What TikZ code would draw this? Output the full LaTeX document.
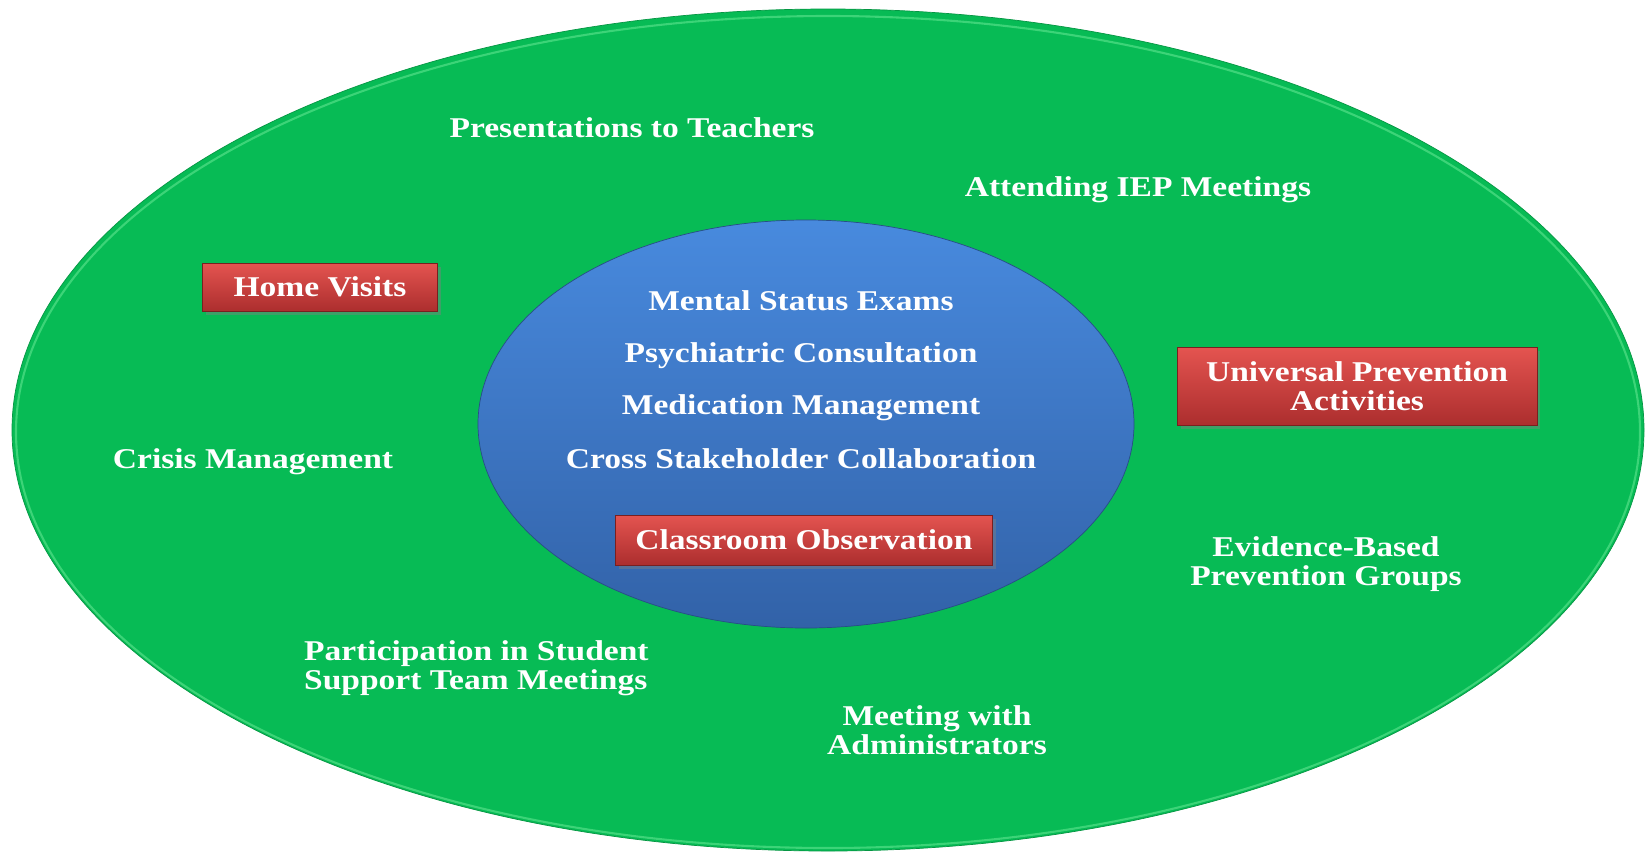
\documentclass[tikz,border=0pt]{standalone}
\usepackage{fontspec}
\setmainfont{Liberation Serif}[FakeStretch=1.17]
\usetikzlibrary{shadows}

\definecolor{ringgreen}{RGB}{7,187,85}
\definecolor{rimgreen}{RGB}{60,212,120}
\definecolor{coreblueTop}{RGB}{72,138,222}
\definecolor{coreblueBot}{RGB}{50,98,168}
\definecolor{boxredTop}{RGB}{228,84,80}
\definecolor{boxredBot}{RGB}{172,46,46}

\begin{document}
\begin{tikzpicture}[x=0.02cm, y=-0.02cm,
  every node/.style={font=\bfseries\fontsize{16.3}{16.7}\selectfont, text=white},
  task/.style={align=center},
  redbox/.style={draw=boxredBot!70!black, top color=boxredTop, bottom color=boxredBot,
    drop shadow={shadow xshift=2pt, shadow yshift=-2pt, opacity=0.45}, align=center}]

\useasboundingbox (0,0) rectangle (1646,853);

%%%%%%%%%%%%%%%%%%%%%%%%%%%%%%%%%%%%%%%%%%%%%%%%%%%%%%%%%%%%%%%%
% Outer ring
%%%%%%%%%%%%%%%%%%%%%%%%%%%%%%%%%%%%%%%%%%%%%%%%%%%%%%%%%%%%%%%%

\fill [ringgreen] (828,430) ellipse [x radius=816, y radius=421];
\draw [rimgreen, line width=1.2pt] (828,432) ellipse [x radius=812, y radius=416];
\draw [ringgreen!80!black, thin] (828,430) ellipse [x radius=816, y radius=421];

\node [task] (pres) at (632,128) {Presentations to Teachers};
\node [task] (iep) at (1138,190) {Attending IEP Meetings};

\node [redbox, minimum width=4.7cm, minimum height=0.96cm] (home) at (320,287) {Home Visits};

\node [task] (crisis) at (253,462) {Crisis Management};

\node [redbox, minimum width=7.2cm, minimum height=1.56cm] (univ) at (1357,386)
    {Universal Prevention\\Activities};

\node [task] (ebp) at (1326,564) {Evidence-Based\\Prevention Groups};

\node [align=left, anchor=west] (psst) at (298,668)
    {Participation in Student\\Support Team Meetings};

\node [task] (admin) at (937,730) {Meeting with\\Administrators};

%%%%%%%%%%%%%%%%%%%%%%%%%%%%%%%%%%%%%%%%%%%%%%%%%%%%%%%%%%%%%%%%
% Core
%%%%%%%%%%%%%%%%%%%%%%%%%%%%%%%%%%%%%%%%%%%%%%%%%%%%%%%%%%%%%%%%

\shade [top color=coreblueTop, bottom color=coreblueBot] (806,424) ellipse [x radius=328, y radius=204];
\draw [coreblueBot!80!black, thin] (806,424) ellipse [x radius=328, y radius=204];

\node [task] (mse) at (801,301) {Mental Status Exams};
\node [task] (psych) at (801,356) {Psychiatric Consultation};
\node [task] (meds) at (801,408) {Medication Management};
\node [task] (cross) at (801,459) {Cross Stakeholder Collaboration};

\node [redbox, minimum width=7.54cm, minimum height=1cm] (obs) at (804,540) {Classroom Observation};

\end{tikzpicture}
\end{document}
